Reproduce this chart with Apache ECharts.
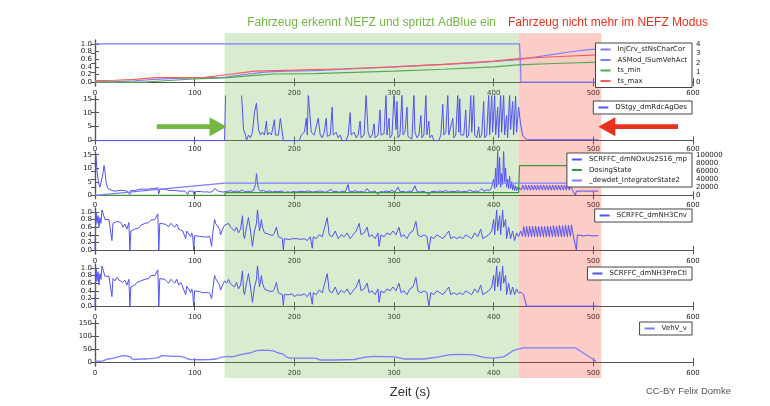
<!DOCTYPE html>
<html><head><meta charset="utf-8">
<script src="https://cdn.jsdelivr.net/npm/echarts@6/dist/echarts.min.js"></script>
<style>html,body{margin:0;padding:0;background:#fff}#c{width:770px;height:406px}</style>
</head><body><div id="c"></div>
<script>
// ---------- data ----------
const xTicks = [0, 100, 200, 300, 400, 500, 600];
const greenBand = [130, 425];
const redBand = [425, 508];
const titleGreen = 'Fahrzeug erkennt NEFZ und spritzt AdBlue ein';
const titleRed = 'Fahrzeug nicht mehr im NEFZ Modus';
const xLabel = 'Zeit (s)';
const credit = 'CC-BY Felix Domke';

// panel 1
const injCrv = [[0,1],[426,1],[427.5,0],[505,0]];
const asMod = [[0,0],[20,0.05],[40,0.15],[60,0.3],[80,0.4],[100,0.45],[130,0.5],[150,0.8],[170,1.05],[190,1.15],[220,1.2],[260,1.4],[300,1.6],[340,1.8],[380,2.0],[425,2.35],[440,2.6],[460,2.9],[480,3.2],[495,3.4],[505,3.45]];
const tsMin = [[0,0],[50,0],[70,0.15],[100,0.35],[130,0.45],[160,0.7],[180,0.85],[220,0.9],[300,1.15],[350,1.35],[400,1.6],[425,1.8],[460,1.95],[505,2.1]];
const tsMax = [[0,0.16],[20,0.2],[40,0.3],[60,0.48],[110,0.5],[130,0.75],[160,1.15],[200,1.25],[250,1.4],[300,1.6],[350,1.85],[400,2.2],[425,2.45],[460,2.65],[505,2.85]];

// panel 2
const dstgy = [[0,0],[130,0],[131,17],[147,17],[149,4],[151,2],[152,0],[154,2],[156,1],[158,3],[160,10],[162,13.5],[163,13],[164,4],[166,2],[168,3],[170,2],[172,7],[173,2],[175,3],[177,2],[180,7.5],[181,2],[184,2],[186,8],[188,8],[189,0],[192,0],[205,0],[207,2],[210,3],[212,8],[213,2],[214,17],[216,17],[217,3],[220,2],[224,8],[226,2],[228,1],[230,3],[232,8],[233,1.5],[236,2],[238,12],[239,2],[242,3],[244,1],[246,2],[248,0],[252,0],[254,2],[256,10],[257,2],[260,3],[262,1],[264,2],[266,7],[267,1],[270,2],[272,16.5],[274,3],[276,1],[278,2],[280,6],[281,1],[284,2],[286,11],[287,2],[290,2.5],[292,16.5],[293,2],[295,8],[296,1],[298,2],[300,16.5],[302,4],[303,14],[304,1],[306,2],[308,16.5],[309,2],[311,3],[313,12],[314,1.5],[316,2],[318,0.5],[320,16.5],[321,3],[323,1],[325,2],[327,9],[328,1],[330,2],[332,16.5],[333,2],[335,7],[336,1],[338,2],[340,0],[345,0],[347,2],[349,13],[350,2],[352,3],[354,16.5],[355,2],[357,1.5],[359,8],[360,1],[362,2],[364,16.5],[365,3],[366,15],[367,2],[370,2],[372,11],[373,1],[375,2],[377,16.5],[378,3],[380,16.5],[381,2],[383,1],[385,5],[386,1],[388,2],[390,14],[391,1],[393,2],[395,16.5],[396,2],[398,16.5],[399,3],[401,16.5],[402,2],[404,12],[405,1],[407,16.5],[408,3],[410,16.5],[411,2],[413,9],[414,1],[416,16.5],[417,4],[419,14],[420,2],[422,16],[423,3],[425,12],[427,6],[429,2],[431,1],[434,0.3],[505,0.3]];

// panel 3
const noxUs = [[0,16.5],[1,15],[2,9],[3,6],[4,4],[5,3],[6,2.8],[7,3.2],[8,8],[9,11],[10,9],[11,5],[12,3.5],[13,2.5],[15,2],[17,1.8],[18,2.2],[20,1.5],[22,2],[24,1.8],[26,2.2],[28,1.8],[30,2],[32,1.6],[34,2],[35,0.3],[36,1.8],[38,2],[40,1.7],[42,2],[44,2.2],[46,1.9],[48,2.3],[50,2],[52,2.2],[54,2],[56,2.4],[58,2.2],[60,2.5],[62,2.3],[63,2.8],[64,0.5],[65,2.2],[67,2],[70,2.3],[72,2],[74,1.8],[76,2.1],[78,1.8],[80,2],[82,1.7],[84,1.9],[86,1.5],[88,1.8],[90,1.6],[92,1.2],[93,0.3],[94,1.5],[96,1.3],[98,1.6],[100,-0.2],[101,1.4],[103,1.2],[106,1.4],[109,1.2],[112,1.3],[115,1.1],[118,1.4],[120,2.5],[122,3],[124,1.5],[126,2],[128,1.2],[130,1.6],[133,1.4],[136,1.8],[139,1.3],[142,1.6],[145,1.4],[148,2],[150,1.2],[153,1.5],[156,1.3],[159,1.8],[161,4],[162,8],[163,5],[164,2.5],[166,1.5],[169,1.8],[172,1.3],[175,1.6],[178,1.2],[181,1.5],[184,1.3],[187,1.6],[190,1.0],[193,1.3],[196,1.1],[199,1.4],[202,1.2],[206,1.5],[210,1.3],[214,1.6],[218,1.2],[222,1.4],[226,1.6],[228,1.4],[231,1.1],[234,1.6],[237,2.2],[239,1.3],[242,1.5],[245,1.1],[248,1.6],[251,1.2],[254,4],[255,1.5],[258,1.3],[261,1.7],[264,1.2],[267,1.5],[270,1.1],[273,2.5],[275,1.4],[278,1.2],[281,1.6],[284,0.3],[286,1.4],[289,1.2],[292,1.6],[295,1.3],[298,1.8],[301,1.2],[304,3],[306,1.3],[309,1.5],[312,1.1],[315,1.6],[318,1.3],[321,3.5],[323,1.4],[326,1.2],[329,1.5],[332,1.1],[335,0.2],[337,1.3],[340,1.5],[343,1.2],[346,1.6],[349,1.3],[352,1.8],[355,1.2],[358,1.5],[361,1.3],[364,1.7],[367,1.2],[370,1.5],[373,1.3],[376,2],[379,1.3],[382,1.6],[385,1.4],[388,2.5],[390,1.5],[393,2],[396,1.8],[398,3],[400,6],[401,2.5],[402,10],[403,3],[404,16.5],[405,4],[406,14],[407,3],[408,8],[409,4],[410,16.5],[411,5],[412,10],[413,3],[414,6],[415,2.5],[416,7],[417,2.5],[418,5],[419,2],[420,4],[421,1.8],[422,3.5],[423,1.8],[424,3],[425,1.8],[426,2.8],[428,1.9],[429,3.8],[431,1.9],[432,3.8],[434,1.9],[435,3.8],[437,1.9],[438,3.8],[440,1.9],[441,3.8],[443,1.9],[444,3.8],[446,1.9],[447,3.8],[449,1.9],[450,3.8],[452,1.9],[453,3.8],[455,1.9],[456,3.8],[458,1.9],[459,3.8],[461,1.9],[462,3.8],[464,1.9],[465,3.8],[467,1.9],[468,3.8],[470,1.9],[471,3.8],[473,1.9],[474,3.8],[476,1.9],[477,3.6],[479,1.9],[481,1.9],[482,0],[483,1.6],[486,1.5],[490,1.6],[495,1.5],[500,1.6],[505,1.5]];
const dosingState = [[0,0],[130,0],[131,1],[425,1],[426,11],[505,11]];
const integrator = [[0,0],[130,30000],[505,30000]];

// panel 4
const nh3Cnv = [[0,0],[1,1.0],[2,0.7],[3,0.9],[4,0.6],[5,0.85],[6,0.7],[7,1.05],[9,1.05],[10,0.8],[12,0.78],[14,0.8],[16,0.75],[17,0.25],[18,0.7],[20,0.65],[22,0.75],[24,0.7],[26,0.72],[28,0.6],[30,0.68],[32,0.55],[34,0.72],[35,0.0],[36,0.5],[38,0.45],[40,0.55],[42,0.6],[44,0.58],[46,0.65],[48,0.62],[50,0.7],[52,0.68],[54,0.72],[56,0.78],[58,0.75],[60,0.8],[62,0.82],[63,0.95],[64,0.0],[65,0.7],[67,0.75],[70,0.68],[72,0.72],[74,0.62],[76,0.7],[78,0.65],[80,0.6],[82,0.68],[84,0.55],[86,0.6],[88,0.5],[90,0.55],[91,0.3],[92,0.5],[94,0.45],[96,0.35],[97,0.45],[98,0.38],[99,0.0],[100,0.38],[102,0.35],[105,0.36],[108,0.35],[112,0.34],[115,0.36],[117,0.1],[118,0.4],[120,0.8],[121,0.7],[123,0.75],[125,0.55],[126,0.4],[128,0.55],[130,0.65],[132,0.6],[134,0.7],[136,0.6],[138,0.55],[140,0.5],[142,0.6],[144,0.45],[146,0.55],[148,0.9],[149,0.4],[150,0.3],[152,0.6],[154,0.85],[156,0.5],[158,0.1],[160,0.5],[162,0.7],[163,1.05],[164,0.8],[165,0.5],[167,0.8],[168,0.6],[170,0.45],[172,0.5],[174,0.42],[176,0.45],[178,0.38],[180,0.45],[182,0.6],[184,0.35],[186,0.4],[188,0.3],[189,0.0],[190,0.3],[192,0.35],[195,0.28],[198,0.3],[200,0.25],[203,0.3],[206,0.28],[210,0.3],[213,0.25],[216,0.35],[218,0.05],[219,0.35],[222,0.3],[225,0.4],[228,0.35],[230,0.4],[233,0.85],[235,0.4],[238,0.35],[241,0.5],[244,0.3],[247,0.4],[250,0.35],[253,0.45],[256,0.3],[259,0.4],[262,0.5],[265,0.7],[267,0.4],[270,0.45],[273,0.6],[275,0.35],[278,0.4],[281,0.3],[284,0.45],[285,0.1],[287,0.4],[290,0.35],[293,0.45],[296,0.4],[299,0.5],[302,0.4],[305,0.6],[307,0.35],[310,0.4],[313,0.3],[316,0.45],[319,0.5],[322,0.75],[324,0.4],[327,0.35],[330,0.4],[333,0.35],[335,0.0],[337,0.35],[340,0.3],[343,0.4],[346,0.35],[349,0.3],[352,0.4],[355,0.5],[357,0.3],[360,0.35],[363,0.3],[366,0.35],[369,0.3],[372,0.4],[375,0.35],[378,0.3],[381,0.45],[384,0.35],[387,0.55],[389,0.3],[392,0.35],[395,0.4],[398,0.5],[400,0.8],[401,0.4],[403,1.05],[404,0.5],[406,0.9],[407,0.4],[409,1.05],[410,0.6],[412,0.8],[413,0.3],[415,0.6],[417,0.3],[419,0.5],[421,0.25],[423,0.45],[425,0.35],[427,0.5],[429,0.36],[430,0.62],[432,0.35],[433,0.62],[435,0.35],[436,0.63],[438,0.35],[439,0.62],[441,0.35],[442,0.63],[444,0.35],[445,0.62],[447,0.35],[448,0.63],[450,0.35],[451,0.62],[453,0.35],[454,0.63],[456,0.35],[457,0.62],[459,0.35],[460,0.64],[462,0.35],[463,0.63],[465,0.35],[466,0.65],[468,0.35],[469,0.64],[471,0.35],[472,0.66],[474,0.35],[475,0.65],[477,0.36],[478,0.66],[480,0.37],[482,0.37],[483,0.0],[484,0.4],[486,0.38],[490,0.37],[495,0.39],[500,0.37],[505,0.38]];

// panel 5
const nh3Pre = [[0,0],[1,1.0],[2,0.65],[3,0.9],[4,0.55],[5,0.85],[6,0.7],[7,1.05],[9,1.05],[10,0.78],[12,0.8],[14,0.78],[16,0.75],[17,0.25],[18,0.72],[20,0.66],[22,0.75],[24,0.68],[26,0.72],[28,0.62],[30,0.68],[32,0.55],[34,0.7],[35,0.0],[36,0.5],[38,0.48],[40,0.55],[42,0.62],[44,0.58],[46,0.66],[48,0.62],[50,0.7],[52,0.68],[54,0.72],[56,0.8],[58,0.76],[60,0.8],[62,0.82],[63,0.95],[64,0.0],[65,0.72],[67,0.75],[70,0.7],[72,0.72],[74,0.6],[76,0.7],[78,0.66],[80,0.6],[82,0.7],[84,0.55],[86,0.62],[88,0.5],[90,0.55],[91,0.3],[92,0.52],[94,0.45],[96,0.35],[97,0.45],[98,0.38],[99,0.0],[100,0.4],[102,0.35],[105,0.38],[108,0.35],[112,0.36],[115,0.34],[117,0.2],[118,0.4],[120,0.8],[121,0.72],[123,0.75],[125,0.55],[126,0.42],[128,0.55],[130,0.66],[132,0.6],[134,0.7],[136,0.58],[138,0.55],[140,0.5],[142,0.62],[144,0.45],[146,0.55],[148,0.92],[149,0.4],[150,0.3],[152,0.6],[154,0.85],[156,0.5],[158,0.1],[160,0.5],[162,0.7],[163,1.05],[164,0.8],[165,0.5],[167,0.8],[168,0.6],[170,0.45],[172,0.5],[174,0.4],[176,0.45],[178,0.38],[180,0.45],[182,0.62],[184,0.35],[186,0.4],[188,0.3],[189,0.02],[190,0.3],[192,0.35],[195,0.3],[198,0.32],[200,0.25],[203,0.3],[206,0.28],[210,0.32],[213,0.25],[216,0.36],[218,0.05],[219,0.35],[222,0.3],[225,0.42],[228,0.35],[230,0.4],[233,0.85],[235,0.4],[238,0.35],[241,0.5],[244,0.3],[247,0.42],[250,0.35],[253,0.45],[256,0.3],[259,0.4],[262,0.5],[265,0.7],[267,0.4],[270,0.45],[273,0.6],[275,0.35],[278,0.4],[281,0.3],[284,0.45],[285,0.1],[287,0.4],[290,0.35],[293,0.45],[296,0.4],[299,0.5],[302,0.4],[305,0.6],[307,0.35],[310,0.4],[313,0.3],[316,0.45],[319,0.5],[322,0.75],[324,0.4],[327,0.35],[330,0.4],[333,0.35],[335,0.0],[337,0.35],[340,0.3],[343,0.4],[346,0.35],[349,0.3],[352,0.4],[355,0.5],[357,0.3],[360,0.35],[363,0.3],[366,0.35],[369,0.3],[372,0.4],[375,0.35],[378,0.3],[381,0.45],[384,0.35],[387,0.55],[389,0.3],[392,0.35],[395,0.4],[398,0.5],[400,0.8],[401,0.4],[403,1.05],[404,0.5],[406,0.9],[407,0.4],[409,1.05],[410,0.6],[412,0.8],[413,0.3],[415,0.6],[417,0.3],[419,0.5],[421,0.3],[423,0.45],[425,0.35],[428,0.36],[430,0.3],[433,0.0],[505,0.0]];

// panel 6
const vehV = [[0,5],[2,10],[4,3],[6,2],[8,5],[10,6],[13,12],[18,14],[21,18],[23,25],[28,25],[32,24],[34,26],[36,20],[37,12],[40,10],[45,12],[50,12],[55,13],[60,15],[64,18],[67,25],[72,24],[78,22],[85,22],[90,18],[93,12],[96,10],[105,9],[115,10],[122,12],[126,18],[128,22],[133,22],[136,20],[140,22],[145,28],[150,32],[155,35],[158,38],[162,44],[168,46],[175,45],[180,42],[183,36],[188,32],[190,30],[193,18],[196,15],[205,15],[215,15],[222,14],[226,8],[240,8],[260,10],[270,18],[280,22],[300,20],[310,12],[330,12],[345,20],[355,28],[365,30],[380,28],[390,18],[400,15],[410,20],[420,45],[430,55],[482,55],[503,2]];

// ---------- layout ----------
const tops = [40, 96, 152, 208, 264, 320];
const H = 46, L = 95, R = 77;
const FONT = 'DejaVu Sans';
const AX = '#555';

const grids = tops.map(t => ({left: L, right: R, top: t, height: H}));
grids.push({left: L, right: R, top: 33, height: 345}); // band grid

const xAxes = [], yAxes = [];
for (let i = 0; i < 6; i++) {
  const base = {type:'value', gridIndex:i, min:0, max:600, interval:100,
    axisLine:{show:true, lineStyle:{color:AX, width:1.2}},
    axisTick:{show:true, inside:true, length:4, lineStyle:{color:AX}},
    splitLine:{show:false}};
  xAxes.push(Object.assign({}, base, {position:'bottom',
    axisLabel:{show:true, fontSize:7, color:'#222', margin:4, fontFamily:FONT,
      customValues: xTicks}}));
  xAxes.push(Object.assign({}, base, {position:'top', axisLabel:{show:false}}));
}
xAxes.push({type:'value', gridIndex:6, min:0, max:600, show:false});

function yAx(i, pos, min, max, ticks, labels, fmt) {
  return {type:'value', gridIndex:i, position:pos, min:min, max:max,
    axisLine:{show:true, lineStyle:{color:AX, width:1.2}},
    axisTick:{show:true, inside:true, length:4, lineStyle:{color:AX}, customValues:ticks},
    axisLabel:{show:labels, fontSize:7, color:'#222', margin:3, fontFamily:FONT,
      customValues:ticks, formatter: fmt || (v => String(v))},
    splitLine:{show:false}};
}
const f1 = v => v.toFixed(1);
const p1Ticks = [0, 0.2, 0.4, 0.6, 0.8, 1.0];
const p1RTicks = [0, 1, 2, 3, 4];
const p2Ticks = [0, 5, 10, 15];
const p3RTicks = [0, 20000, 40000, 60000, 80000, 100000];
const p6Ticks = [0, 50, 100, 150];
yAxes.push(yAx(0,'left',-0.1,1.1,p1Ticks,true,f1));      //0
yAxes.push(yAx(0,'right',-0.4,4.4,p1RTicks,true));        //1
yAxes.push(yAx(1,'left',-0.5,16,p2Ticks,true));           //2
yAxes.push(yAx(1,'right',-0.5,16,p2Ticks,false));         //3
yAxes.push(yAx(2,'left',-1,16,p2Ticks,true));             //4
yAxes.push(yAx(2,'right',-6667,106667,p3RTicks,true));    //5
yAxes.push(yAx(3,'left',-0.1,1.1,p1Ticks,true,f1));      //6
yAxes.push(yAx(3,'right',-0.1,1.1,p1Ticks,false));        //7
yAxes.push(yAx(4,'left',-0.1,1.1,p1Ticks,true,f1));      //8
yAxes.push(yAx(4,'right',-0.1,1.1,p1Ticks,false));        //9
yAxes.push(yAx(5,'left',-15,162,p6Ticks,true));           //10
yAxes.push(yAx(5,'right',-15,162,p6Ticks,false));         //11
yAxes.push({type:'value', gridIndex:6, min:0, max:1, show:false}); //12

const BLUE = '#5252f5', BLUE_L = '#7d7dff', GREEN = '#3a9a3a', RED = '#ff5a5a';
function ln(name, data, xi, yi, color, w) {
  return {name, type:'line', data, xAxisIndex:xi, yAxisIndex:yi, showSymbol:false, symbol:'none',
    animation:false, clip:true, lineStyle:{color, width:w||1}, itemStyle:{color}, z:2};
}
const series = [
  ln('InjCrv_stNsCharCor', injCrv, 0, 0, BLUE_L, 1.2),
  ln('ASMod_ISumVehAct', asMod, 0, 1, BLUE_L, 1.2),
  ln('ts_min', tsMin, 0, 1, '#55aa55', 1.2),
  ln('ts_max', tsMax, 0, 1, RED, 1.2),
  ln('DStgy_dmRdcAgDes', dstgy, 2, 2, BLUE, 1),
  ln('SCRFFC_dmNOxUs2S16_mp', noxUs, 4, 4, BLUE, 1),
  ln('DosingState', dosingState, 4, 4, GREEN, 1.2),
  ln('_dewdet_IntegratorState2', integrator, 4, 5, BLUE_L, 1.2),
  ln('SCRFFC_dmNH3Cnv', nh3Cnv, 6, 6, BLUE, 1),
  ln('SCRFFC_dmNH3PreCtl', nh3Pre, 8, 8, BLUE, 1),
  ln('VehV_v', vehV, 10, 10, BLUE_L, 1.3),
  {type:'line', xAxisIndex:12, yAxisIndex:12, data:[[0,0]], symbol:'none', lineStyle:{opacity:0},
   z:20, animation:false, silent:true,
   markArea:{silent:true, data:[
     [{xAxis:greenBand[0], itemStyle:{color:'rgba(110,180,70,0.26)'}}, {xAxis:greenBand[1]}],
     [{xAxis:redBand[0], itemStyle:{color:'rgba(245,60,40,0.26)'}}, {xAxis:redBand[1]}]
   ]}}
];

function lg(names, top) {
  return {data:names, orient:'vertical', right:78, top, itemWidth:10, itemHeight:2, icon:'rect',
    itemGap:3.5, padding:[3,5,3,5], borderColor:'#444', borderWidth:1, borderRadius:0,
    backgroundColor:'#fff', selectedMode:false, z:4,
    textStyle:{fontSize:7, color:'#222', fontFamily:FONT, padding:[0,0,0,2]}};
}
const legends = [
  lg(['InjCrv_stNsCharCor','ASMod_ISumVehAct','ts_min','ts_max'], 43),
  lg(['DStgy_dmRdcAgDes'], 101),
  lg(['SCRFFC_dmNOxUs2S16_mp','DosingState','_dewdet_IntegratorState2'], 153),
  lg(['SCRFFC_dmNH3Cnv'], 209),
  lg(['SCRFFC_dmNH3PreCtl'], 267),
  lg(['VehV_v'], 322)
];

const chart = echarts.init(document.getElementById('c'), null, {renderer:'canvas'});
chart.setOption({animation:false, backgroundColor:'#fff', grid:grids, xAxis:xAxes, yAxis:yAxes,
  legend:legends, series});

// annotations placed through the chart's own coordinate conversion
const gTip = chart.convertToPixel({gridIndex:1}, [132, 5]);
const gTail = chart.convertToPixel({gridIndex:1}, [62, 5]);
const rTip = chart.convertToPixel({gridIndex:1}, [505, 5]);
const rTail = chart.convertToPixel({gridIndex:1}, [585, 5]);
function arrow(tip, tail, color) {
  const dir = tail[0] > tip[0] ? 1 : -1;
  const y = tip[1], hl = 17, hw = 9.5, sw = 2.3;
  const b = tip[0] + dir * hl;
  return {type:'polygon', z:30, shape:{points:[
    [tip[0], y], [b, y - hw], [b, y - sw], [tail[0], y - sw], [tail[0], y + sw], [b, y + sw], [b, y + hw]]},
    style:{fill:color}};
}
const gc = chart.convertToPixel({gridIndex:6}, [(greenBand[0] + greenBand[1]) / 2, 0]);
chart.setOption({graphic:[
  arrow(gTip, gTail, '#74b844'),
  arrow(rTip, rTail, '#e8321e'),
  {type:'text', z:30, x:gc[0], y:23, style:{text:titleGreen, fill:'#74b844', font:'12px "Liberation Sans"', textAlign:'center', textVerticalAlign:'middle'}},
  {type:'text', z:30, x:508, y:23, style:{text:titleRed, fill:'#e8321e', font:'12px "Liberation Sans"', textAlign:'left', textVerticalAlign:'middle'}},
  {type:'text', z:30, x:410, y:392, style:{text:xLabel, fill:'#333', font:'13px "Liberation Sans"', textAlign:'center', textVerticalAlign:'middle'}},
  {type:'text', z:30, x:646, y:391, style:{text:credit, fill:'#555', font:'9.5px "Liberation Sans"', textAlign:'left', textVerticalAlign:'middle'}}
]});
</script></body></html>
